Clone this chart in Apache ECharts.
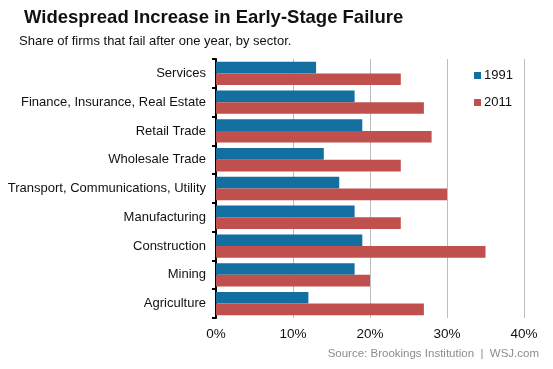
<!DOCTYPE html>
<html><head><meta charset="utf-8">
<script src="https://cdn.jsdelivr.net/npm/echarts@6/dist/echarts.min.js"></script>
<style>html,body{margin:0;padding:0;background:#fff}#c{width:553px;height:369px}</style>
</head><body><div id="c"></div>
<script>
const categories = ["Services","Finance, Insurance, Real Estate","Retail Trade","Wholesale Trade","Transport, Communications, Utility","Manufacturing","Construction","Mining","Agriculture"];
const values1991 = [13,18,19,14,16,18,19,18,12];
const values2011 = [24,27,28,24,30,24,35,20,27];
const xTicks = [0,10,20,30,40];

const chart = echarts.init(document.getElementById('c'), null, {renderer:'canvas'});
const font = 'Liberation Sans, Arial, sans-serif';
chart.setOption({
  animation:false,
  backgroundColor:'#fff',
  title:[
    {text:'Widespread Increase in Early-Stage Failure', left:19, top:3,
     textStyle:{fontFamily:font, fontSize:18.5, fontWeight:'bold', color:'#111'}},
    {text:'Share of firms that fail after one year, by sector.', left:14, top:30,
     textStyle:{fontFamily:font, fontSize:13, fontWeight:'normal', color:'#111'}},
    {text:'Source: Brookings Institution  |  WSJ.com', right:9, top:343,
     textStyle:{fontFamily:font, fontSize:11.5, fontWeight:'normal', color:'#8c8c8c'}}
  ],
  legend:{
    orient:'vertical', left:469, top:64, itemWidth:7, itemHeight:7, itemGap:14,
    icon:'rect',
    textStyle:{fontFamily:font, fontSize:13, color:'#111', padding:[0,0,0,-2]},
    data:['1991','2011']
  },
  grid:{left:216, right:29, top:59, bottom:51, containLabel:false},
  xAxis:{
    type:'value', min:0, max:40, interval:10,
    axisLine:{show:false}, axisTick:{show:false},
    splitLine:{lineStyle:{color:'#bdbdbd', width:1}},
    axisLabel:{formatter: v => xTicks.includes(v) ? v + '%' : '', fontFamily:font, fontSize:13.5, color:'#111', margin:9}
  },
  yAxis:{
    type:'category', data:categories, inverse:true,
    axisLine:{show:true, lineStyle:{color:'#000', width:2}},
    axisTick:{show:true, length:4, lineStyle:{color:'#000', width:2}},
    axisLabel:{fontFamily:font, fontSize:13, color:'#111', margin:10}
  },
  series:[
    {name:'1991', type:'bar', data:values1991, itemStyle:{color:'#136f9f'}, barGap:'0%', barCategoryGap:'19%'},
    {name:'2011', type:'bar', data:values2011, itemStyle:{color:'#c0504d'}, barGap:'0%', barCategoryGap:'19%'}
  ]
});
</script></body></html>
